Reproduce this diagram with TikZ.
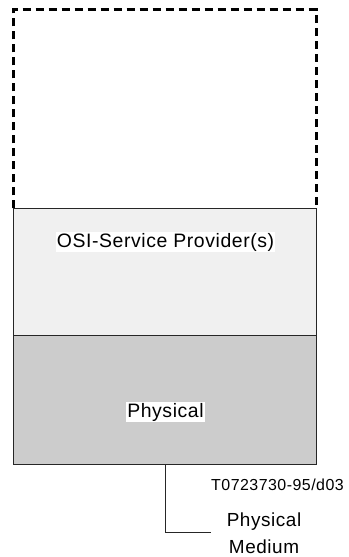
\documentclass[tikz,border=0pt]{standalone}
\usepackage{fontspec}
\setmainfont{Liberation Sans}
\definecolor{provgray}{HTML}{F0F0F0}
\definecolor{physgray}{HTML}{CCCCCC}
\definecolor{edgegray}{HTML}{262626}
\begin{document}
\begin{tikzpicture}[x=1bp,y=-1bp,
  layerbox/.style={draw=edgegray, line width=0.9bp, minimum width=303bp, inner sep=0pt, anchor=north west},
  openbox/.style={minimum width=303bp, minimum height=198bp, inner sep=0pt, anchor=north west},
  dashedge/.style={line width=3bp, dash pattern=on 8bp off 5bp},
  layertext/.style={fill=white, inner sep=1bp, font=\fontsize{19.5}{21}\selectfont\addfontfeature{LetterSpace=3}},
  smalltext/.style={inner sep=0pt, font=\fontsize{16}{18}\selectfont\addfontfeature{LetterSpace=3}},
  mediumtext/.style={inner sep=0pt, align=center, font=\fontsize{19}{27}\selectfont\addfontfeature{LetterSpace=3}},
  link/.style={draw=edgegray, line width=0.9bp}]
\useasboundingbox (0,0) rectangle (348,557);
\node[openbox] (upper) at (13,10) {};
\node[layerbox, fill=provgray, minimum height=127bp] (prov) at (13,208) {};
\node[layerbox, fill=physgray, minimum height=129bp] (phys) at (13,335) {};
\draw[dashedge] (upper.south west) |- (upper.north east) -- (upper.south east);
\node[layertext] (provlabel) at (165.5,242) {OSI-Service Provider(s)};
\node[layertext] (physlabel) at (165.5,412) {Physical};
\node[smalltext] (code) at (277.5,485) {T0723730-95/d03};
\node[mediumtext] (medium) at (264,533) {Physical\\Medium};
\coordinate (mediumend) at (211,532);
\draw[link] (phys.south) |- (mediumend);
\end{tikzpicture}
\end{document}
